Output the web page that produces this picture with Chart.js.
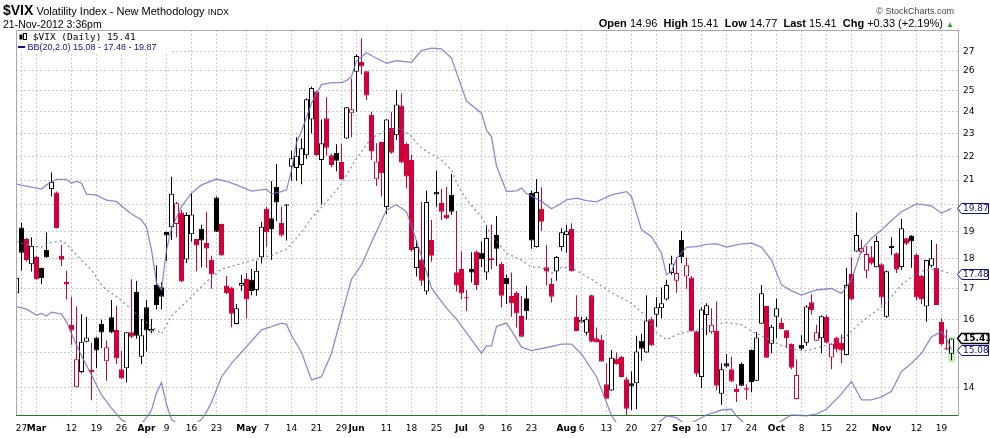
<!DOCTYPE html>
<html>
<head>
<meta charset="utf-8">
<title>$VIX Volatility Index</title>
<script src="https://cdn.jsdelivr.net/npm/chart.js"></script>
<style>
  body { margin: 0; background: #fff; }
  #wrap { position: relative; width: 990px; height: 438px; font-family: "Liberation Sans", Arial, sans-serif; color: #000; }
  #chart { position: absolute; left: 0; top: 0; }
  .t { position: absolute; white-space: nowrap; line-height: 1; }
</style>
</head>
<body>
<div id="wrap">
  <canvas id="chart" width="990" height="438"></canvas>

  <!-- header -->
  <div class="t" style="left:3px; top:3px; font-size:11px;"><b style="font-size:14px;">$VIX</b> Volatility Index - New Methodology <span style="font-size:9px;">INDX</span></div>
  <div class="t" style="left:3px; top:19px; font-size:10.5px;">21-Nov-2012 3:36pm</div>
  <div class="t" style="right:36px; top:7px; font-size:9px; color:#444;">&copy; StockCharts.com</div>
  <div class="t" style="right:36px; top:18px; font-size:11px;">
    <b>Open</b> 14.96&nbsp; <b>High</b> 15.41&nbsp; <b>Low</b> 14.77&nbsp; <b>Last</b> 15.41&nbsp; <b>Chg</b> +0.33 (+2.19%) <span style="color:#2e9a2e; font-size:8px;">&#9650;</span>
  </div>

  <!-- legend -->
  <div class="t" style="left:17px; top:31px; width:153px; height:21px; background:#fff;"></div>
  <div class="t" style="left:19px; top:32px; font-family:'DejaVu Sans Mono', monospace; font-size:9.5px;">
    <svg width="8" height="8" style="vertical-align:-1px;"><rect x="0.5" y="1.5" width="3" height="5" fill="#000"/><rect x="4.5" y="0.5" width="3" height="6" fill="#fff" stroke="#000" stroke-width="1"/></svg> $VIX (Daily) 15.41
  </div>
  <div class="t" style="left:18px; top:43px; font-size:9px; color:#10108a;"><span style="display:inline-block; width:7px; height:2px; background:#10108a; vertical-align:2px;"></span> BB(20,2.0) 15.08 - 17.48 - 19.87</div>
</div>

<script>
// daily candles, Feb 24 2012 .. Nov 21 2012 (index = trading day)
const open = [
  16.83,19.14,18.71,17.81,18.07,17.69,18.32,20.63,20.49,18.11,
  17.21,15.83,14.01,14.43,15.31,14.43,15.44,15.86,14.74,16.06,
  15.67,14.51,14.54,15.60,16.88,14.87,16.38,15.62,17.11,17.03,
  18.97,19.15,19.27,19.71,17.98,18.89,18.71,19.09,18.57,17.96,
  20.29,19.27,17.09,17.02,15.85,17.08,17.31,17.28,16.94,18.06,
  19.85,19.49,20.72,19.31,20.02,21.55,21.50,21.62,22.04,23.63,
  24.96,21.84,23.69,22.04,22.14,21.75,22.77,23.93,25.94,26.45,
  25.97,23.85,21.03,22.62,19.92,23.25,22.92,24.29,22.53,21.84,
  17.68,17.98,16.89,18.68,20.52,20.08,19.62,20.40,17.54,17.65,
  16.70,17.65,18.26,18.22,17.53,18.02,18.86,17.83,17.34,16.74,
  16.85,16.10,16.67,20.47,18.42,19.85,17.71,17.14,17.56,18.42,
  18.86,19.08,16.08,15.90,15.58,16.77,15.42,15.37,14.09,13.92,
  14.82,14.87,14.23,14.12,14.12,15.34,14.99,16.00,16.14,16.35,
  16.63,17.51,17.25,18.68,17.39,17.36,15.63,14.29,16.13,15.60,
  15.64,13.83,14.68,14.51,13.97,14.66,13.98,15.07,14.19,15.86,
  16.42,15.25,16.08,15.88,15.66,15.25,13.69,15.22,15.28,16.54,
  15.34,15.42,16.08,14.85,15.44,15.28,14.92,17.48,18.26,18.24,
  17.59,18.06,17.71,17.81,16.08,18.39,18.20,17.72,18.74,18.84,
  18.14,17.41,16.40,17.76,17.68,15.91,15.12,14.96
];
const high = [
  17.40,19.32,18.75,18.78,18.10,17.70,18.95,21.31,20.53,18.50,
  17.59,16.72,16.40,16.16,16.08,15.28,15.46,15.98,15.34,16.61,
  16.42,15.04,15.60,17.30,17.24,16.01,16.61,16.01,17.78,17.20,
  18.98,21.13,20.12,19.81,19.71,20.47,18.72,19.24,19.74,18.11,
  20.33,19.28,17.41,17.03,16.48,17.45,17.51,17.65,17.94,19.36,
  19.94,20.96,21.67,19.93,20.04,22.24,22.83,22.77,24.62,25.20,
  25.00,23.63,24.68,22.10,22.52,22.54,24.22,25.60,26.85,27.70,
  25.98,24.00,22.56,22.63,23.66,24.00,25.04,24.88,22.60,22.05,
  18.68,20.12,20.56,19.42,21.38,20.64,20.73,21.25,19.77,18.26,
  16.94,18.24,18.30,18.62,19.24,19.24,19.57,17.90,17.45,17.53,
  16.90,16.74,17.08,20.57,21.04,20.71,18.50,17.34,18.10,19.11,
  19.24,19.30,16.77,16.08,16.08,16.78,15.74,15.52,14.68,15.07,
  14.99,14.90,14.30,14.45,15.49,15.55,16.77,16.06,16.70,17.02,
  17.28,18.11,18.06,19.01,18.06,17.40,15.64,16.37,16.51,16.35,
  16.56,14.68,14.95,14.87,14.09,14.70,14.09,15.08,15.61,17.11,
  16.43,15.83,16.66,16.03,15.67,15.26,14.80,15.51,16.45,16.80,
  15.83,16.12,16.14,15.26,15.46,15.54,17.68,18.06,19.71,18.70,
  18.46,18.46,18.83,17.85,17.60,18.77,18.22,19.46,18.75,18.85,
  18.20,17.45,17.96,18.68,18.54,16.03,15.69,15.41
];
const low = [
  16.80,17.60,17.90,17.56,17.28,17.14,18.02,20.33,19.10,17.75,
  16.63,15.22,14.00,14.40,15.30,13.66,14.54,15.12,14.19,15.57,
  14.66,14.24,14.14,15.42,15.40,14.66,15.02,15.57,16.31,16.31,
  17.94,18.68,18.78,17.20,17.86,18.62,17.57,17.71,17.69,16.98,
  18.97,18.11,16.80,15.75,15.84,16.91,16.02,16.77,16.75,17.84,
  18.44,17.96,19.38,18.81,18.66,20.97,20.97,20.83,21.89,23.00,
  22.00,20.02,22.02,21.53,21.36,21.00,22.76,22.83,24.00,25.81,
  24.55,21.84,20.76,20.33,19.65,22.10,22.71,21.70,20.65,18.26,
  17.39,17.08,16.78,17.90,19.94,19.42,19.45,19.62,16.89,16.64,
  16.26,17.19,16.94,17.72,17.28,17.64,17.75,16.37,16.48,16.08,
  15.74,15.45,15.98,18.36,18.41,19.02,17.09,16.53,17.25,18.29,
  18.22,17.56,15.63,15.89,15.51,15.30,15.29,14.72,13.69,13.91,
  14.64,14.28,13.25,13.40,13.42,14.75,14.98,15.19,15.77,16.03,
  16.60,17.45,16.85,17.86,16.98,15.62,14.30,13.98,15.51,15.55,
  13.92,13.54,14.55,14.15,13.61,14.04,13.67,13.87,14.18,15.85,
  14.83,14.97,15.42,15.69,15.12,14.51,13.68,15.07,15.19,16.15,
  15.33,14.97,15.27,14.51,15.00,14.68,14.91,16.60,18.25,18.20,
  17.34,17.80,17.70,16.45,16.05,18.14,17.51,17.62,18.50,17.69,
  16.60,16.48,15.92,17.70,16.45,15.20,15.07,14.77
];
const close = [
  17.34,18.22,17.96,18.46,17.30,17.33,18.07,20.92,19.12,17.97,
  17.12,15.65,14.80,15.31,15.44,14.49,15.05,15.59,15.15,15.59,
  14.82,14.25,15.60,15.46,15.49,15.51,15.65,15.70,16.45,16.72,
  18.84,20.44,20.07,17.22,19.61,19.63,18.48,18.66,18.37,17.46,
  18.98,18.12,16.83,16.17,16.35,17.17,16.63,16.91,17.59,19.17,
  18.96,19.08,20.10,18.84,19.97,21.91,22.02,22.34,24.59,25.14,
  22.05,22.56,22.37,21.62,21.81,21.04,24.21,24.11,26.76,26.21,
  24.77,22.20,21.77,21.28,23.64,22.15,24.34,21.73,21.14,18.32,
  18.42,17.25,20.12,18.11,20.41,19.74,19.49,19.74,17.09,16.83,
  16.66,17.53,17.11,18.00,18.75,17.95,18.36,16.75,17.13,16.51,
  16.18,15.46,16.26,18.66,20.51,19.36,17.56,16.72,18.07,18.96,
  19.00,17.57,15.64,15.98,16.00,15.31,15.30,14.73,13.70,14.84,
  14.65,14.29,13.43,14.03,15.02,15.10,15.96,15.20,16.38,16.51,
  17.11,17.84,17.51,18.06,17.78,15.63,14.38,16.31,16.44,15.83,
  14.05,14.51,14.59,14.17,13.87,14.05,13.94,14.15,15.44,16.83,
  14.84,15.77,16.35,15.70,15.42,14.55,14.35,15.10,16.40,16.29,
  15.60,16.09,15.28,15.25,15.09,15.05,17.11,16.63,18.86,18.39,
  18.17,17.84,18.64,16.69,17.57,18.46,17.62,19.11,18.54,18.62,
  16.69,16.64,17.96,18.02,16.45,15.24,15.08,15.41
];

// Bollinger Bands (20, 2.0): [trading day, value]
const upperBand = [
  [0,20.83],[3,20.71],[5,20.63],[6,20.80],[8,21.03],[10,21.03],[11,20.87],[12,20.94],[13,20.87],[14,20.43],
  [16,20.39],[18,20.19],[20,20.14],[22,19.80],[23,19.65],[25,19.42],[26,19.15],[27,18.32],[28,17.17],[29,16.94],
  [30,18.32],[31,19.10],[33,19.94],[35,20.47],[37,20.80],[40,21.04],[42,20.94],[44,20.80],[47,20.55],[50,20.63],
  [51,20.43],[53,20.53],[54,20.60],[55,21.40],[56,22.60],[57,23.10],[59,24.40],[61,25.30],[63,25.40],[65,25.40],
  [66,25.50],[67,25.70],[68,26.50],[70,26.93],[72,26.64],[74,26.38],[76,26.51],[79,26.43],[81,27.04],[83,27.17],
  [85,27.13],[87,26.64],[88,25.90],[89,25.20],[90,24.50],[93,23.93],[94,23.15],[95,22.85],[96,21.58],[98,20.53],
  [100,20.56],[101,20.67],[102,20.45],[105,20.14],[107,19.85],[109,20.07],[110,20.20],[112,20.27],[114,20.17],[116,20.12],
  [119,20.40],[122,20.53],[123,20.33],[125,19.05],[127,18.80],[129,18.20],[130,17.45],[131,17.56],[132,18.02],[134,18.41],
  [136,18.44],[138,18.52],[140,18.54],[142,18.42],[145,18.54],[147,18.56],[149,18.42],[151,17.96],[153,17.11],[155,16.91],
  [157,16.77],[160,16.94],[163,16.99],[165,16.83],[167,17.28],[169,18.32],[171,18.74],[173,19.05],[175,19.40],[177,19.74],
  [180,20.04],[183,19.97],[185,19.68],[187,19.87]
];
const midBand = [
  [0,18.62],[3,18.46],[5,18.42],[7,18.60],[9,18.64],[10,18.54],[12,18.14],[15,17.62],[17,17.10],[18,16.95],
  [20,16.72],[22,16.45],[25,16.02],[29,15.55],[31,16.10],[35,16.72],[38,17.22],[41,17.65],[44,17.79],[47,17.94],
  [51,18.12],[54,18.35],[57,18.95],[59,19.50],[63,20.35],[65,20.85],[66,21.20],[68,21.91],[71,22.79],[74,23.15],
  [77,23.22],[79,22.85],[81,22.35],[85,21.84],[87,21.40],[88,20.90],[90,20.20],[93,19.55],[95,18.85],[98,18.20],
  [101,17.96],[103,17.72],[105,17.71],[107,17.50],[109,17.70],[111,17.70],[115,17.30],[119,16.85],[123,16.51],[126,16.08],
  [128,15.58],[130,15.37],[132,15.52],[134,15.61],[137,15.69],[139,15.83],[142,15.90],[145,15.83],[147,15.63],[150,15.42],
  [153,15.20],[156,15.07],[158,15.04],[161,15.17],[163,15.27],[166,15.48],[169,15.92],[171,16.15],[173,16.40],[175,16.72],
  [177,17.12],[179,17.37],[181,17.57],[184,17.66],[187,17.48]
];
const lowerBand = [
  [0,16.40],[2,16.32],[4,16.13],[5,16.18],[6,16.10],[7,16.22],[9,16.16],[10,15.92],[11,15.55],[13,14.90],
  [15,14.35],[17,13.80],[19,13.45],[21,13.15],[24,12.90],[26,13.20],[27,13.40],[28,13.85],[29,14.14],[30,13.55],
  [31,13.15],[34,12.90],[37,13.15],[38,13.35],[39,13.60],[41,14.30],[43,14.68],[45,15.00],[49,15.67],[51,15.77],
  [53,15.88],[54,15.84],[55,15.50],[57,15.00],[59,14.21],[61,14.30],[63,14.97],[65,16.10],[66,16.70],[67,17.30],
  [69,17.79],[71,18.60],[74,19.81],[76,20.01],[78,19.74],[79,19.20],[81,18.10],[83,17.00],[86,16.35],[88,16.00],
  [90,15.58],[93,14.97],[94,15.19],[95,15.19],[96,15.78],[98,15.88],[99,15.65],[101,15.15],[103,15.05],[107,15.17],
  [109,15.24],[111,15.24],[113,14.95],[116,14.30],[118,13.60],[119,13.25],[121,12.90],[127,12.90],[130,13.25],[132,13.20],
  [134,13.00],[137,13.20],[138,13.27],[141,13.40],[143,13.42],[144,13.25],[146,13.00],[151,12.95],[154,13.20],[155,13.27],
  [158,13.25],[160,13.30],[162,13.42],[165,13.83],[167,14.17],[169,13.67],[171,13.67],[173,13.75],[175,13.90],[177,14.45],
  [179,14.68],[181,14.97],[183,15.46],[185,15.62],[186,15.40],[187,15.08]
];

// axis labels
const xTickPos  = [1,4,11,16,21,26,30,35,40,46,50,55,60,65,68,74,79,84,89,93,98,103,110,113,118,123,128,133,137,142,147,152,157,162,167,173,180,185];
const xTickText = ['27','Mar','12','19','26','Apr','9','16','23','May','7','14','21','29','Jun','11','18','25','Jul','9','16','23','Aug','6','13','20','27','Sep','10','17','24','Oct','8','15','22','Nov','12','19'];
const monthNames = ['Mar','Apr','May','Jun','Jul','Aug','Sep','Oct','Nov'];
const yTicks = [14,15,16,17,18,19,20,21,22,23,24,25,26,27];
const yHidden = [15,20];

const RED = '#d2003a';
const BB = 'rgba(110,110,200,0.8)';
const NAVY = '#10108a';

const last = close.length - 1;
const colour = close.map((c, i) => (i > 0 && c < close[i - 1]) ? RED : '#000');
const hollow = close.map((c, i) => c >= open[i]);
const tickLabel = {};
xTickPos.forEach((p, k) => { tickLabel[p] = xTickText[k]; });

const toXY = arr => arr.map(([i, v]) => ({x: i, y: v}));

// green box behind the latest candle, frame lines, value tags on the price axis
const extras = {
  id: 'extras',
  beforeDatasetsDraw(chart) {
    const {ctx, scales: {x, y}} = chart;
    const cx = x.getPixelForValue(last);
    const top = y.getPixelForValue(high[last]) - 2;
    const bot = y.getPixelForValue(low[last]) + 2;
    ctx.save();
    ctx.fillStyle = '#c8efb6';
    ctx.fillRect(cx - 3.5, top, 7, bot - top);
    ctx.restore();
  },
  afterDraw(chart) {
    const {ctx, chartArea: a, scales: {y}} = chart;
    ctx.save();
    ctx.strokeStyle = '#a8a8a8';
    ctx.lineWidth = 1;
    ctx.beginPath();
    ctx.moveTo(a.left + 0.5, a.bottom);
    ctx.lineTo(a.left + 0.5, a.top + 0.5);
    ctx.lineTo(a.right, a.top + 0.5);
    ctx.stroke();

    const tags = [
      [upperBand[upperBand.length - 1][1], NAVY, false],
      [midBand[midBand.length - 1][1], NAVY, false],
      [close[last], '#000', true],
      [lowerBand[lowerBand.length - 1][1], NAVY, false]
    ];
    tags.forEach(([v, col, bold]) => {
      const yy = Math.round(y.getPixelForValue(v)) + 0.5;
      const x0 = a.right - 0.5;
      ctx.beginPath();
      ctx.moveTo(x0, yy);
      ctx.lineTo(x0 + 4, yy - 5);
      ctx.lineTo(988.5, yy - 5);
      ctx.lineTo(988.5, yy + 5);
      ctx.lineTo(x0 + 4, yy + 5);
      ctx.closePath();
      ctx.fillStyle = '#fff';
      ctx.fill();
      ctx.strokeStyle = col;
      ctx.lineWidth = bold ? 1.5 : 1;
      ctx.stroke();
      ctx.fillStyle = col;
      ctx.font = (bold ? 'bold ' : '') + '9px "DejaVu Sans"';
      ctx.textBaseline = 'middle';
      ctx.textAlign = 'left';
      ctx.fillText(v.toFixed(2), x0 + 5.5, yy + 0.5);
    });
    ctx.restore();
  }
};

new Chart(document.getElementById('chart'), {
  type: 'bar',
  data: {
    datasets: [
      {
        type: 'line', label: 'BB upper', data: toXY(upperBand),
        borderColor: BB, borderWidth: 1.3, pointRadius: 0, tension: 0, order: 0
      },
      {
        type: 'line', label: 'BB mid', data: toXY(midBand),
        borderColor: BB, borderWidth: 1.3, borderDash: [2, 3], pointRadius: 0, tension: 0, order: 0
      },
      {
        type: 'line', label: 'BB lower', data: toXY(lowerBand),
        borderColor: BB, borderWidth: 1.3, pointRadius: 0, tension: 0, order: 0,
        clip: {left: 0, top: 0, right: 0, bottom: 7}
      },
      {
        label: 'body', data: close.map((c, i) => ({x: i, y: [open[i], c]})),
        backgroundColor: close.map((c, i) => hollow[i] ? '#fff' : colour[i]),
        borderColor: colour, borderWidth: 1, borderSkipped: false,
        barThickness: 5, grouped: false, inflateAmount: 0, order: 1
      },
      {
        label: 'wick', data: high.map((h, i) => ({x: i, y: [low[i], h]})),
        backgroundColor: colour, borderWidth: 0,
        barThickness: 1, grouped: false, inflateAmount: 0, order: 2
      }
    ]
  },
  options: {
    responsive: false,
    animation: false,
    layout: { padding: { left: 16, top: 30, right: 0, bottom: 0 } },
    plugins: { legend: { display: false }, tooltip: { enabled: false } },
    scales: {
      x: {
        type: 'linear', min: -0.1, max: 188.3, offset: false,
        grid: { color: '#cdcdcd', drawTicks: false, offset: false },
        border: { color: '#1f7a1f', width: 1, dash: [2, 2] },
        ticks: {
          autoSkip: false, maxRotation: 0, padding: 8, color: '#000',
          font: ctx => {
            const t = ctx.tick ? tickLabel[ctx.tick.value] : '';
            return { family: 'DejaVu Sans', size: 9, weight: monthNames.includes(t) ? 'bold' : 'normal' };
          },
          callback: v => tickLabel[v] || ''
        },
        afterBuildTicks: s => { s.ticks = xTickPos.map(v => ({ value: v })); },
        afterFit: s => { s.height = 23; s.paddingLeft = 0; s.paddingRight = 0; }
      },
      y: {
        type: 'logarithmic', position: 'right', min: 13.27, max: 28.15,
        grid: { color: '#cdcdcd', drawTicks: false },
        border: { color: '#a8a8a8', width: 1, dash: [2, 2] },
        ticks: {
          padding: 5, color: '#000', font: { family: 'DejaVu Sans', size: 9 },
          callback: v => yHidden.includes(v) ? '' : String(v)
        },
        afterBuildTicks: s => { s.ticks = yTicks.map(v => ({ value: v })); },
        afterFit: s => { s.width = 32; s.paddingTop = 0; s.paddingBottom = 0; }
      }
    }
  },
  plugins: [extras]
});
</script>
</body>
</html>
